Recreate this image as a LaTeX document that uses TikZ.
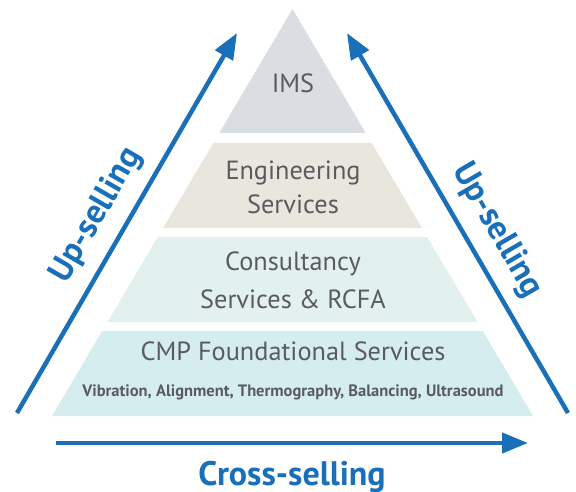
\documentclass[tikz,border=0pt]{standalone}
\usepackage{fontspec}
\setmainfont{PT Sans}
\usetikzlibrary{arrows.meta}
\definecolor{pyrBlue}{HTML}{1A70B8}
\definecolor{pyrText}{HTML}{5A5B5F}
\definecolor{pyrIms}{HTML}{DADDE1}
\definecolor{pyrEng}{HTML}{E9E7DD}
\definecolor{pyrCons}{HTML}{E3F1EE}
\definecolor{pyrCmp}{HTML}{D6EDEF}
\tikzset{
  pyr arrow/.style={draw=pyrBlue, line width=4.5pt, -{Triangle[length=26pt, width=20pt]}},
  pyr label/.style={font=\fontsize{26.3}{31}\selectfont, text=pyrText, anchor=base, inner sep=0pt},
  pyr small label/.style={font=\fontsize{16.5}{19}\selectfont\bfseries, text=pyrText, anchor=base, inner sep=0pt},
  pyr sell/.style={font=\fontsize{34}{40}\selectfont\bfseries, text=pyrBlue},
}

\begin{document}
\begin{tikzpicture}[x=1pt, y=-1pt]
  \useasboundingbox (0,0) rectangle (576,492);

  % Pyramid bands: apex at (292.5,9), base 52..533 at y=416
  \foreach \top/\bot/\col in {9/133/pyrIms, 143/228/pyrEng, 237/322/pyrCons, 331/416/pyrCmp}
  {
    \pgfmathsetmacro\dt{0.591*(\top-9)}
    \pgfmathsetmacro\db{0.591*(\bot-9)}
    \fill[\col] (292.5-\dt,\top) -- (292.5+\dt,\top) -- (292.5+\db,\bot) -- (292.5-\db,\bot) -- cycle;
  }

  \node[pyr label] (ims) at (293,93) {IMS};
  \node[pyr label] (eng) at (293,180) {Engineering};
  \node[pyr label] (engsub) at (293,213) {Services};
  \node[pyr label] (cons) at (293,270) {Consultancy};
  \node[pyr label] (conssub) at (293,308) {Services \& RCFA};
  \node[pyr label] (cmp) at (293,360) {CMP Foundational Services};
  \node[pyr small label] (cmpsub) at (293,396) {Vibration, Alignment, Thermography, Balancing, Ultrasound};

  % Selling arrows
  \coordinate (lb) at (17,413);
  \coordinate (lt) at (237,33);
  \coordinate (rb) at (568,413);
  \coordinate (rt) at (347,33);
  \coordinate (bl) at (56,443);
  \coordinate (br) at (528,443);
  \draw[pyr arrow] (lb) -- (lt) node[pyr sell, pos=.48, sloped, above=9pt] (upl) {Up-selling};
  \draw[pyr arrow] (rb) -- (rt) node[pyr sell, pos=.44, sloped, above=9pt] (upr) {Up-selling};
  \draw[pyr arrow] (bl) -- (br);
  \node[pyr sell, anchor=base] (cross) at (292,485) {Cross-selling};
\end{tikzpicture}
\end{document}
